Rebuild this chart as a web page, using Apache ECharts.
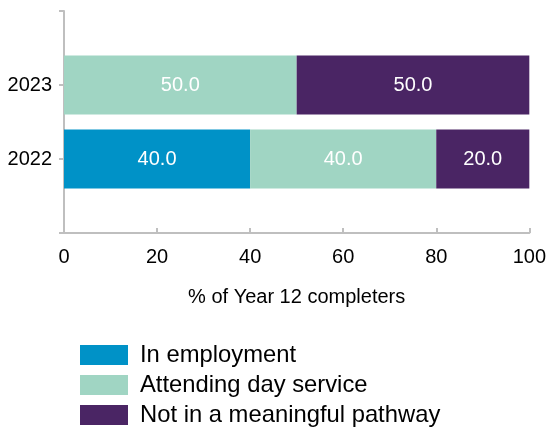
<!DOCTYPE html>
<html>
<head>
<meta charset="utf-8">
<script src="https://cdn.jsdelivr.net/npm/echarts@6/dist/echarts.min.js"></script>
<style>
  html, body { margin: 0; padding: 0; background: #fff; }
  #chart { width: 549px; height: 428px; }
</style>
</head>
<body>
<div id="chart"></div>
<script>
// empty slots at both ends keep the bars off the axis ends
const years = ['', '2022', '2023', ''];
const employment = [null, 40.0, 0, null];
const dayService = [null, 40.0, 50.0, null];
const noPathway = [null, 20.0, 50.0, null];
const xTicks = [0, 20, 40, 60, 80, 100];

const chart = echarts.init(document.getElementById('chart'));

const labelStyle = {
  show: true,
  color: '#fff',
  fontSize: 20,
  fontFamily: 'Liberation Sans, Arial, sans-serif',
  formatter: p => (p.value ? p.value.toFixed(1) : '')
};

const makeSeries = (name, data, color) => ({
  name: name,
  type: 'bar',
  stack: 'total',
  data: data,
  barWidth: 59,
  itemStyle: { color: color },
  label: labelStyle,
  emphasis: { disabled: true }
});

chart.setOption({
  animation: false,
  textStyle: { fontFamily: 'Liberation Sans, Arial, sans-serif' },
  grid: { left: 64, right: 19, top: 11, bottom: 195 },
  xAxis: {
    type: 'value',
    min: xTicks[0],
    max: xTicks[xTicks.length - 1],
    interval: 20,
    name: '% of Year 12 completers',
    nameLocation: 'middle',
    nameGap: 54,
    nameTextStyle: { fontSize: 20, color: '#000' },
    axisLine: { show: true, lineStyle: { color: '#bfbfbf', width: 2 } },
    axisTick: { show: true, inside: true, length: 5, lineStyle: { color: '#bfbfbf', width: 2 } },
    axisLabel: { fontSize: 20, color: '#000', margin: 14 },
    splitLine: { show: false }
  },
  yAxis: {
    type: 'category',
    data: years,
    boundaryGap: false,
    axisLine: { show: true, lineStyle: { color: '#bfbfbf', width: 2 } },
    axisTick: { show: true, length: 5, lineStyle: { color: '#bfbfbf', width: 2 } },
    axisLabel: { fontSize: 20, color: '#000', margin: 12 },
    splitLine: { show: false }
  },
  legend: {
    orient: 'vertical',
    left: 80,
    top: 343,
    height: 90,
    padding: 0,
    icon: 'rect',
    itemWidth: 48,
    itemHeight: 20,
    itemGap: 6,
    textStyle: { fontSize: 23.8, color: '#000', padding: [0, 0, 0, 7] },
    data: ['In employment', 'Attending day service', 'Not in a meaningful pathway']
  },
  series: [
    makeSeries('In employment', employment, '#0092c7'),
    makeSeries('Attending day service', dayService, '#a0d5c3'),
    makeSeries('Not in a meaningful pathway', noPathway, '#4a2564')
  ]
});
</script>
</body>
</html>
